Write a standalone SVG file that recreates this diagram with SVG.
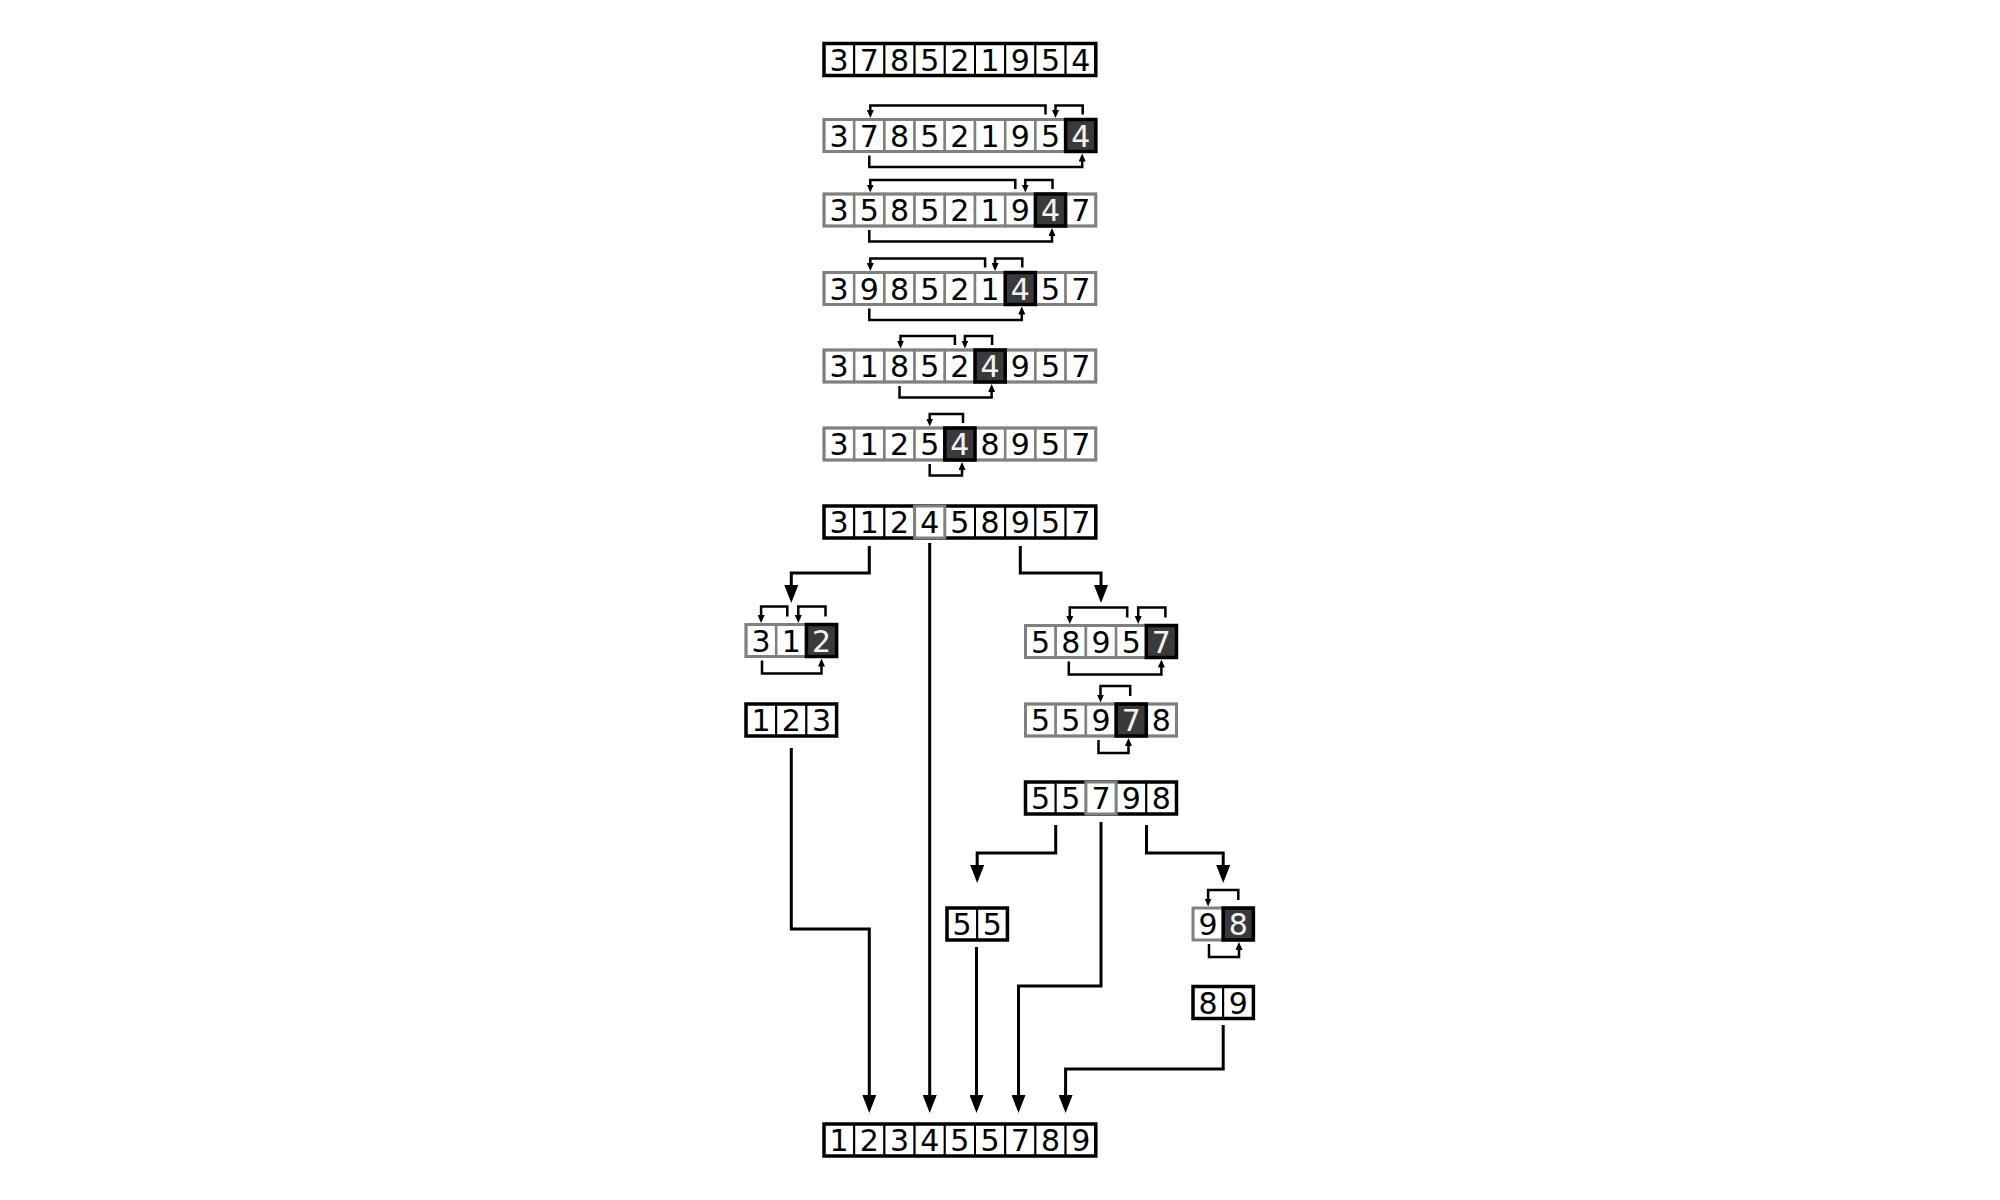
<svg xmlns="http://www.w3.org/2000/svg" width="2000" height="1200" viewBox="0 0 2000 1200">
<style>
.k{fill:#fff;stroke:#000;stroke-width:2}
.ko{fill:none;stroke:#000;stroke-width:3.5}
.g{fill:#fff;stroke:#808080;stroke-width:2.5}
.go{fill:none;stroke:#808080;stroke-width:3}
.gf{fill:#fff;stroke:#808080;stroke-width:3}
.p{fill:#3a3a3a;stroke:#000;stroke-width:3.5}
text{font-family:"DejaVu Sans","Liberation Sans",sans-serif;font-size:30px;text-anchor:middle;fill:#000}
text.w{fill:#f2f2f2}
.br{fill:none;stroke:#000;stroke-width:2.5;marker-end:url(#sa)}
.cn{fill:none;stroke:#000;stroke-width:3;marker-end:url(#ba)}
</style>
<defs>
<marker id="sa" markerUnits="userSpaceOnUse" markerWidth="8" markerHeight="7" viewBox="0 0 8 7" refX="2" refY="3.5" orient="auto"><path d="M0,0 L8,3.5 L0,7 z" fill="#000"/></marker>
<marker id="ba" markerUnits="userSpaceOnUse" markerWidth="18" markerHeight="14" viewBox="0 0 18 14" refX="2" refY="7" orient="auto"><path d="M0,0 L18,7 L0,14 z" fill="#000"/></marker>
</defs>
<rect width="2000" height="1200" fill="#fff"/>

<g id="row1" transform="translate(824,43.5)">
<rect class="k" x="0" width="30.2" height="32"/><rect class="k" x="30.2" width="30.2" height="32"/><rect class="k" x="60.4" width="30.2" height="32"/><rect class="k" x="90.6" width="30.2" height="32"/><rect class="k" x="120.8" width="30.2" height="32"/><rect class="k" x="151" width="30.2" height="32"/><rect class="k" x="181.2" width="30.2" height="32"/><rect class="k" x="211.4" width="30.2" height="32"/><rect class="k" x="241.6" width="30.2" height="32"/>
<rect class="ko" width="271.8" height="32"/>
<text x="15.1" y="27">3</text><text x="45.3" y="27">7</text><text x="75.5" y="27">8</text><text x="105.7" y="27">5</text><text x="135.9" y="27">2</text><text x="166.1" y="27">1</text><text x="196.3" y="27">9</text><text x="226.5" y="27">5</text><text x="256.7" y="27">4</text>
</g>

<g id="row2" transform="translate(824,119.5)">
<rect class="g" x="0" width="30.2" height="32"/><rect class="g" x="30.2" width="30.2" height="32"/><rect class="g" x="60.4" width="30.2" height="32"/><rect class="g" x="90.6" width="30.2" height="32"/><rect class="g" x="120.8" width="30.2" height="32"/><rect class="g" x="151" width="30.2" height="32"/><rect class="g" x="181.2" width="30.2" height="32"/><rect class="g" x="211.4" width="30.2" height="32"/>
<rect class="go" width="271.8" height="32"/>
<rect class="p" x="241.6" width="30.2" height="32"/>
<text x="15.1" y="27">3</text><text x="45.3" y="27">7</text><text x="75.5" y="27">8</text><text x="105.7" y="27">5</text><text x="135.9" y="27">2</text><text x="166.1" y="27">1</text><text x="196.3" y="27">9</text><text x="226.5" y="27">5</text><text class="w" x="256.7" y="27">4</text>
</g>

<g id="row3" transform="translate(824,194)">
<rect class="g" x="0" width="30.2" height="32"/><rect class="g" x="30.2" width="30.2" height="32"/><rect class="g" x="60.4" width="30.2" height="32"/><rect class="g" x="90.6" width="30.2" height="32"/><rect class="g" x="120.8" width="30.2" height="32"/><rect class="g" x="151" width="30.2" height="32"/><rect class="g" x="181.2" width="30.2" height="32"/><rect class="g" x="241.6" width="30.2" height="32"/>
<rect class="go" width="271.8" height="32"/>
<rect class="p" x="211.4" width="30.2" height="32"/>
<text x="15.1" y="27">3</text><text x="45.3" y="27">5</text><text x="75.5" y="27">8</text><text x="105.7" y="27">5</text><text x="135.9" y="27">2</text><text x="166.1" y="27">1</text><text x="196.3" y="27">9</text><text class="w" x="226.5" y="27">4</text><text x="256.7" y="27">7</text>
</g>

<g id="row4" transform="translate(824,272.5)">
<rect class="g" x="0" width="30.2" height="32"/><rect class="g" x="30.2" width="30.2" height="32"/><rect class="g" x="60.4" width="30.2" height="32"/><rect class="g" x="90.6" width="30.2" height="32"/><rect class="g" x="120.8" width="30.2" height="32"/><rect class="g" x="151" width="30.2" height="32"/><rect class="g" x="211.4" width="30.2" height="32"/><rect class="g" x="241.6" width="30.2" height="32"/>
<rect class="go" width="271.8" height="32"/>
<rect class="p" x="181.2" width="30.2" height="32"/>
<text x="15.1" y="27">3</text><text x="45.3" y="27">9</text><text x="75.5" y="27">8</text><text x="105.7" y="27">5</text><text x="135.9" y="27">2</text><text x="166.1" y="27">1</text><text class="w" x="196.3" y="27">4</text><text x="226.5" y="27">5</text><text x="256.7" y="27">7</text>
</g>

<g id="row5" transform="translate(824,350)">
<rect class="g" x="0" width="30.2" height="32"/><rect class="g" x="30.2" width="30.2" height="32"/><rect class="g" x="60.4" width="30.2" height="32"/><rect class="g" x="90.6" width="30.2" height="32"/><rect class="g" x="120.8" width="30.2" height="32"/><rect class="g" x="181.2" width="30.2" height="32"/><rect class="g" x="211.4" width="30.2" height="32"/><rect class="g" x="241.6" width="30.2" height="32"/>
<rect class="go" width="271.8" height="32"/>
<rect class="p" x="151" width="30.2" height="32"/>
<text x="15.1" y="27">3</text><text x="45.3" y="27">1</text><text x="75.5" y="27">8</text><text x="105.7" y="27">5</text><text x="135.9" y="27">2</text><text class="w" x="166.1" y="27">4</text><text x="196.3" y="27">9</text><text x="226.5" y="27">5</text><text x="256.7" y="27">7</text>
</g>

<g id="row6" transform="translate(824,428)">
<rect class="g" x="0" width="30.2" height="32"/><rect class="g" x="30.2" width="30.2" height="32"/><rect class="g" x="60.4" width="30.2" height="32"/><rect class="g" x="90.6" width="30.2" height="32"/><rect class="g" x="151" width="30.2" height="32"/><rect class="g" x="181.2" width="30.2" height="32"/><rect class="g" x="211.4" width="30.2" height="32"/><rect class="g" x="241.6" width="30.2" height="32"/>
<rect class="go" width="271.8" height="32"/>
<rect class="p" x="120.8" width="30.2" height="32"/>
<text x="15.1" y="27">3</text><text x="45.3" y="27">1</text><text x="75.5" y="27">2</text><text x="105.7" y="27">5</text><text class="w" x="135.9" y="27">4</text><text x="166.1" y="27">8</text><text x="196.3" y="27">9</text><text x="226.5" y="27">5</text><text x="256.7" y="27">7</text>
</g>

<g id="row7" transform="translate(824,506)">
<rect class="k" x="0" width="30.2" height="32"/><rect class="k" x="30.2" width="30.2" height="32"/><rect class="k" x="60.4" width="30.2" height="32"/><rect class="k" x="120.8" width="30.2" height="32"/><rect class="k" x="151" width="30.2" height="32"/><rect class="k" x="181.2" width="30.2" height="32"/><rect class="k" x="211.4" width="30.2" height="32"/><rect class="k" x="241.6" width="30.2" height="32"/>
<rect class="ko" width="271.8" height="32"/>
<rect class="gf" x="90.6" width="30.2" height="32"/>
<text x="15.1" y="27">3</text><text x="45.3" y="27">1</text><text x="75.5" y="27">2</text><text x="105.7" y="27">4</text><text x="135.9" y="27">5</text><text x="166.1" y="27">8</text><text x="196.3" y="27">9</text><text x="226.5" y="27">5</text><text x="256.7" y="27">7</text>
</g>

<g id="left1" transform="translate(746,624.5)">
<rect class="g" x="0" width="30.2" height="32"/><rect class="g" x="30.2" width="30.2" height="32"/>
<rect class="go" width="90.6" height="32"/>
<rect class="p" x="60.4" width="30.2" height="32"/>
<text x="15.1" y="27">3</text><text x="45.3" y="27">1</text><text class="w" x="75.5" y="27">2</text>
</g>

<g id="left2" transform="translate(746,704)">
<rect class="k" x="0" width="30.2" height="32"/><rect class="k" x="30.2" width="30.2" height="32"/><rect class="k" x="60.4" width="30.2" height="32"/>
<rect class="ko" width="90.6" height="32"/>
<text x="15.1" y="27">1</text><text x="45.3" y="27">2</text><text x="75.5" y="27">3</text>
</g>

<g id="right1" transform="translate(1025.5,625.5)">
<rect class="g" x="0" width="30.2" height="32"/><rect class="g" x="30.2" width="30.2" height="32"/><rect class="g" x="60.4" width="30.2" height="32"/><rect class="g" x="90.6" width="30.2" height="32"/>
<rect class="go" width="151" height="32"/>
<rect class="p" x="120.8" width="30.2" height="32"/>
<text x="15.1" y="27">5</text><text x="45.3" y="27">8</text><text x="75.5" y="27">9</text><text x="105.7" y="27">5</text><text class="w" x="135.9" y="27">7</text>
</g>

<g id="right2" transform="translate(1025.5,704)">
<rect class="g" x="0" width="30.2" height="32"/><rect class="g" x="30.2" width="30.2" height="32"/><rect class="g" x="60.4" width="30.2" height="32"/><rect class="g" x="120.8" width="30.2" height="32"/>
<rect class="go" width="151" height="32"/>
<rect class="p" x="90.6" width="30.2" height="32"/>
<text x="15.1" y="27">5</text><text x="45.3" y="27">5</text><text x="75.5" y="27">9</text><text class="w" x="105.7" y="27">7</text><text x="135.9" y="27">8</text>
</g>

<g id="right3" transform="translate(1025.5,782)">
<rect class="k" x="0" width="30.2" height="32"/><rect class="k" x="30.2" width="30.2" height="32"/><rect class="k" x="90.6" width="30.2" height="32"/><rect class="k" x="120.8" width="30.2" height="32"/>
<rect class="ko" width="151" height="32"/>
<rect class="gf" x="60.4" width="30.2" height="32"/>
<text x="15.1" y="27">5</text><text x="45.3" y="27">5</text><text x="75.5" y="27">7</text><text x="105.7" y="27">9</text><text x="135.9" y="27">8</text>
</g>

<g id="sub55" transform="translate(947,908)">
<rect class="k" x="0" width="30.2" height="32"/><rect class="k" x="30.2" width="30.2" height="32"/>
<rect class="ko" width="60.4" height="32"/>
<text x="15.1" y="27">5</text><text x="45.3" y="27">5</text>
</g>

<g id="sub98" transform="translate(1193,908)">
<rect class="gf" x="0" width="30.2" height="32"/>
<rect class="p" x="30.2" width="30.2" height="32"/>
<text x="15.1" y="27">9</text><text class="w" x="45.3" y="27">8</text>
</g>

<g id="sub89" transform="translate(1193,986.5)">
<rect class="k" x="0" width="30.2" height="32"/><rect class="k" x="30.2" width="30.2" height="32"/>
<rect class="ko" width="60.4" height="32"/>
<text x="15.1" y="27">8</text><text x="45.3" y="27">9</text>
</g>

<g id="final" transform="translate(824,1124)">
<rect class="k" x="0" width="30.2" height="32"/><rect class="k" x="30.2" width="30.2" height="32"/><rect class="k" x="60.4" width="30.2" height="32"/><rect class="k" x="90.6" width="30.2" height="32"/><rect class="k" x="120.8" width="30.2" height="32"/><rect class="k" x="151" width="30.2" height="32"/><rect class="k" x="181.2" width="30.2" height="32"/><rect class="k" x="211.4" width="30.2" height="32"/><rect class="k" x="241.6" width="30.2" height="32"/>
<rect class="ko" width="271.8" height="32"/>
<text x="15.1" y="27">1</text><text x="45.3" y="27">2</text><text x="75.5" y="27">3</text><text x="105.7" y="27">4</text><text x="135.9" y="27">5</text><text x="166.1" y="27">5</text><text x="196.3" y="27">7</text><text x="226.5" y="27">8</text><text x="256.7" y="27">9</text>
</g>

<g id="connectors">
<path class="br" d="M1045.5,114.5 V105.5 H870.3 V112"/>
<path class="br" d="M1082.7,114.5 V105.5 H1055.5 V112"/>
<path class="br" d="M869.3,155.5 V167 H1082.2 V159.5"/>
<path class="br" d="M1015.3,189 V180 H870.3 V186.5"/>
<path class="br" d="M1052.5,189 V180 H1025.3 V186.5"/>
<path class="br" d="M869.3,230 V241.5 H1052 V234"/>
<path class="br" d="M985.1,267.5 V258.5 H870.3 V265"/>
<path class="br" d="M1022.3,267.5 V258.5 H995.1 V265"/>
<path class="br" d="M869.3,308.5 V320 H1021.8 V312.5"/>
<path class="br" d="M954.9,345 V336 H900.5 V342.5"/>
<path class="br" d="M992.1,345 V336 H964.9 V342.5"/>
<path class="br" d="M899.5,386 V397.5 H991.6 V390"/>
<path class="br" d="M963,423 V414 H929.7 V420.5"/>
<path class="br" d="M929.7,464 V475.5 H962 V468"/>
<path class="br" d="M787.3,616.5 V606.5 H761.1 V617"/>
<path class="br" d="M825.5,616.5 V606.5 H798.3 V617"/>
<path class="br" d="M762,660.5 V673.5 H821.5 V664.5"/>
<path class="br" d="M1127.2,617.5 V607.5 H1069.8 V618"/>
<path class="br" d="M1165.4,617.5 V607.5 H1138.2 V618"/>
<path class="br" d="M1068.8,661.5 V674.5 H1161.4 V665.5"/>
<path class="br" d="M1130.2,696 V686 H1100.5 V696.5"/>
<path class="br" d="M1098.5,740 V753 H1128.5 V744"/>
<path class="br" d="M1238.3,900 V890 H1208.1 V900.5"/>
<path class="br" d="M1209,944 V957 H1239 V948"/>
<path class="cn" d="M869.3,546 V573 H791.3 V587"/>
<path class="cn" d="M929.7,543 V1097"/>
<path class="cn" d="M1020.3,546 V573 H1101 V587"/>
<path class="cn" d="M791.3,748 V929 H869.3 V1097"/>
<path class="cn" d="M1055.7,825 V853 H977.2 V867"/>
<path class="cn" d="M1101,822 V986 H1018.5 V1097"/>
<path class="cn" d="M1146.5,825 V853 H1223.2 V867"/>
<path class="cn" d="M976.5,947 V1097"/>
<path class="cn" d="M1223.2,1025 V1069 H1065.6 V1097"/>
</g>
</svg>
